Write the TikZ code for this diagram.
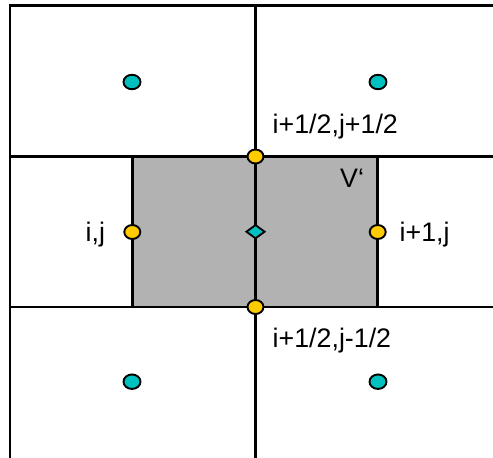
\documentclass[tikz,border=0pt]{standalone}
\usepackage{fontspec}
\setmainfont{Liberation Sans}
\usetikzlibrary{shapes.geometric}
\definecolor{cellgray}{HTML}{B2B2B2}
\definecolor{faceyellow}{HTML}{FFCC00}
\definecolor{centercyan}{HTML}{00C0C0}
\begin{document}
\begin{tikzpicture}[x=1pt,y=-1pt,
  gridline/.style={line width=2.9pt,black},
  facept/.style={ellipse,draw=black,line width=1.9pt,fill=faceyellow,minimum width=16pt,minimum height=14pt,inner sep=0pt},
  cellpt/.style={ellipse,draw=black,line width=1.9pt,fill=centercyan,minimum width=17pt,minimum height=14.5pt,inner sep=0pt},
  vertpt/.style={diamond,draw=black,line width=1.8pt,fill=centercyan,minimum width=19pt,minimum height=14pt,inner sep=0pt},
  lbl/.style={inner sep=0pt,anchor=base west,font=\fontsize{26.8}{31}\selectfont}]
\useasboundingbox (0,0) rectangle (493,458);
% grid coordinates
\coordinate (tl) at (10,5.5);
\coordinate (tr) at (493,5.5);
\coordinate (mt) at (255.5,5.5);
\coordinate (mb) at (255.5,458);
\coordinate (lb) at (10,458);
\coordinate (h1l) at (10,156.5);
\coordinate (h1r) at (493,156.5);
\coordinate (h2l) at (10,307);
\coordinate (h2r) at (493,307);
% control volume
\fill[cellgray] (132.3,156.5) rectangle (377.7,307);
\draw[gridline] (132.3,156.5) -- (132.3,307);
\draw[gridline] (377.7,156.5) -- (377.7,307);
% grid
\draw[gridline] (tr) -- (tl) -- (lb);
\draw[gridline] (mt) -- (mb);
\draw[gridline] (h1l) -- (h1r);
\draw[gridline] (h2l) -- (h2r);
% points
\node[cellpt] (c1) at (132,82) {};
\node[cellpt] (c2) at (378,82) {};
\node[cellpt] (c3) at (132,381.7) {};
\node[cellpt] (c4) at (378,381.7) {};
\node[facept] (ft) at (255.5,156.5) {};
\node[facept] (fb) at (255.5,307) {};
\node[facept] (fl) at (132.3,232) {};
\node[facept] (fr) at (377.7,232) {};
\node[vertpt] (v) at (255.5,231.7) {};
% labels
\node[lbl] (ltop) at (272.5,133) {i+1/2,j+1/2};
\node[lbl] (lbot) at (272.5,347) {i+1/2,j-1/2};
\node[lbl] (lij) at (85.5,241) {i,j};
\node[lbl] (lipj) at (399.5,241) {i+1,j};
\node[lbl] (lv) at (340,187) {V‘};
\end{tikzpicture}
\end{document}
